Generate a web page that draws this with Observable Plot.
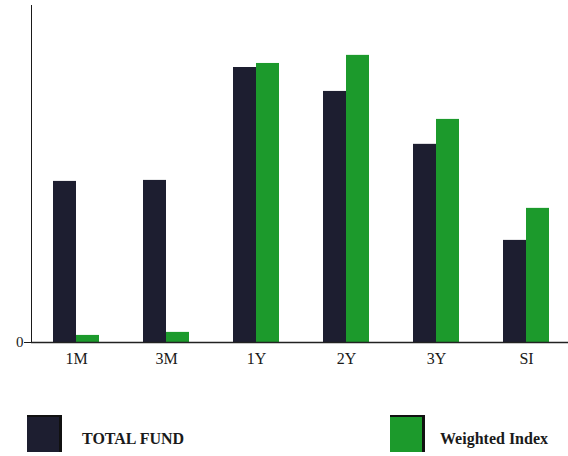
<!DOCTYPE html>
<html>
<head>
<meta charset="utf-8">
<script src="https://cdn.jsdelivr.net/npm/d3@7"></script>
<script src="https://cdn.jsdelivr.net/npm/@observablehq/plot@0.6"></script>
<style>
  html, body { margin: 0; padding: 0; background: #fff; }
  #wrap { position: relative; width: 568px; height: 456px; overflow: hidden; font-family: "Liberation Serif", "DejaVu Serif", serif; }
  #legend { position: relative; width: 568px; height: 81px; }
  .sw { position: absolute; width: 35px; height: 37px; box-sizing: border-box; border-top: 2px solid #111; border-right: 3px solid #111; }
  .lt { position: absolute; font-family: "Liberation Serif", serif; font-weight: bold; font-size: 16px; color: #1a1a1a; line-height: 16px; }
  svg [aria-label="y-axis tick label"] text, svg g[aria-label="y-axis"] text { font-size: 15px; }
</style>
</head>
<body>
<div id="wrap">
  <div id="chart"></div>
  <div id="legend"></div>
</div>
<script>
const categories = ["1M", "3M", "1Y", "2Y", "3Y", "SI"];
const series = ["TOTAL FUND", "Weighted Index"];
const totalFund = [4.78, 4.81, 8.16, 7.45, 5.88, 3.03];
const weightedIndex = [0.21, 0.30, 8.28, 8.52, 6.62, 3.98];
const colors = ["#1d1e30", "#1c9a2c"];
const yTicks = [0];

const data = [];
categories.forEach((c, i) => {
  data.push({category: c, series: series[0], value: totalFund[i]});
  data.push({category: c, series: series[1], value: weightedIndex[i]});
});

const chart = Plot.plot({
  width: 568,
  height: 375,
  marginTop: 5,
  marginBottom: 33,
  marginLeft: 30,
  marginRight: -4,
  style: {fontFamily: "Liberation Serif, serif", fontSize: "16px", color: "#1a1a1a", background: "#fff", overflow: "hidden"},
  fx: {domain: categories, padding: 0, axis: "bottom", label: null, tickSize: 0, tickPadding: 10},
  x: {domain: series, paddingInner: 0, paddingOuter: 0.92, axis: null},
  y: {domain: [0, 10], ticks: yTicks, tickFormat: d => String(d), tickSize: 7, tickPadding: 1, line: true, label: null},
  color: {domain: series, range: colors},
  marks: [
    Plot.barY(data, {fx: "category", x: "series", y: "value", fill: "series"}),
    Plot.ruleY([0], {stroke: "#222", strokeWidth: 1.5})
  ]
});
document.getElementById("chart").appendChild(chart);

const legend = document.getElementById("legend");
const legendItems = [
  {label: series[0], color: colors[0], swLeft: 27, textLeft: 82},
  {label: series[1], color: colors[1], swLeft: 390, textLeft: 440}
];
legendItems.forEach(it => {
  const sw = document.createElement("div");
  sw.className = "sw";
  sw.style.left = it.swLeft + "px";
  sw.style.top = "40px";
  sw.style.background = it.color;
  legend.appendChild(sw);
  const t = document.createElement("div");
  t.className = "lt";
  t.style.left = it.textLeft + "px";
  t.style.top = "56px";
  t.textContent = it.label;
  legend.appendChild(t);
});
</script>
</body>
</html>
